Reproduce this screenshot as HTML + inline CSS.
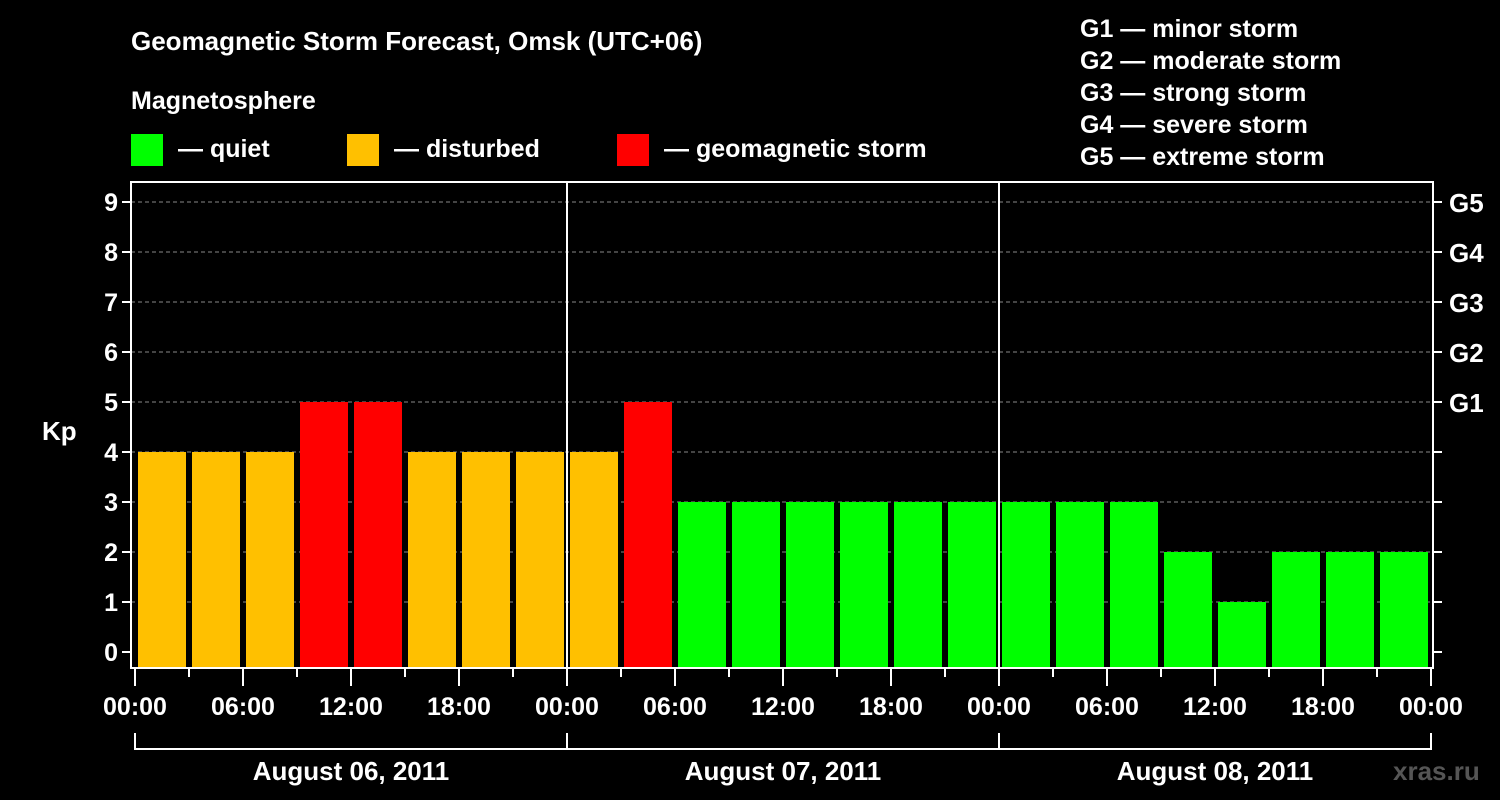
<!DOCTYPE html>
<html><head><meta charset="utf-8"><style>
html,body{margin:0;padding:0;background:#000;}
svg{display:block;font-family:"Liberation Sans",sans-serif;font-weight:bold;}
</style></head><body>
<svg id="chart" width="1500" height="800" viewBox="0 0 1500 800">
<rect width="1500" height="800" fill="#000"/>
<text x="131" y="50" fill="#fff" font-size="26">Geomagnetic Storm Forecast, Omsk (UTC+06)</text>
<text x="131" y="109" fill="#fff" font-size="25">Magnetosphere</text>
<g><rect x="131" y="134" width="32" height="32" fill="#00ff00"/><text x="178" y="157" fill="#fff" font-size="25">— quiet</text></g>
<g><rect x="347" y="134" width="32" height="32" fill="#ffc000"/><text x="394" y="157" fill="#fff" font-size="25">— disturbed</text></g>
<g><rect x="617" y="134" width="32" height="32" fill="#ff0000"/><text x="664" y="157" fill="#fff" font-size="25">— geomagnetic storm</text></g>
<g fill="#fff" font-size="25">
<text x="1080" y="37">G1 — minor storm</text>
<text x="1080" y="69">G2 — moderate storm</text>
<text x="1080" y="101">G3 — strong storm</text>
<text x="1080" y="133">G4 — severe storm</text>
<text x="1080" y="165">G5 — extreme storm</text>
</g>
<text x="42" y="440" fill="#fff" font-size="26">Kp</text>
<text x="1393" y="780" fill="#555" font-size="26">xras.ru</text>
<g id="plot"></g>
</svg>
<script>
const kpValues=[4,4,4,5,5,4,4,4,4,5,3,3,3,3,3,3,3,3,3,2,1,2,2,2];
const kpTicks=[0,1,2,3,4,5,6,7,8,9];
const gLabels={5:"G1",6:"G2",7:"G3",8:"G4",9:"G5"};
const timeLabels=["00:00","06:00","12:00","18:00","00:00","06:00","12:00","18:00","00:00","06:00","12:00","18:00","00:00"];
const dayLabels=["August 06, 2011","August 07, 2011","August 08, 2011"];

const NS="http://www.w3.org/2000/svg";
const plot=document.getElementById('plot');
const x0=135, slotW=54, L=131, R=1433, T=182, B=668;
const xs=i=>x0+i*slotW;
const ys=v=>652-v*50;
function mk(tag,attrs,parent){const e=document.createElementNS(NS,tag);for(const k in attrs)e.setAttribute(k,attrs[k]);(parent||plot).appendChild(e);return e;}
function color(v){return v>=5?"#ff0000":v===4?"#ffc000":"#00ff00";}

kpTicks.forEach(v=>{
  if(v>0){const g=mk('line',{x1:L,x2:R,y1:ys(v),y2:ys(v),stroke:'#888','stroke-dasharray':'4,3','stroke-width':1});
  
  }
  mk('line',{x1:L-9,x2:L,y1:ys(v),y2:ys(v),stroke:'#fff','stroke-width':2});
  mk('line',{x1:R,x2:R+9,y1:ys(v),y2:ys(v),stroke:'#fff','stroke-width':2});
  const t=mk('text',{x:L-13,y:ys(v)+9,fill:'#fff','font-size':25,'text-anchor':'end'});
  t.textContent=v;
  
  
  if(gLabels[v]){const g=mk('text',{x:1449,y:ys(v)+10,fill:'#fff','font-size':26});g.textContent=gLabels[v];
  
  }
});
kpValues.forEach((v,i)=>{
  const r=mk('rect',{x:xs(i)+3,y:ys(v),width:48,height:B-ys(v),fill:color(v)});
  
  
});
[1,2].forEach(d=>mk('line',{x1:xs(d*8),x2:xs(d*8),y1:T,y2:B,stroke:'#fff','stroke-width':2}));
mk('rect',{x:L,y:T,width:R-L,height:B-T,fill:'none',stroke:'#fff','stroke-width':2});
for(let i=0;i<=24;i++){
  mk('line',{x1:xs(i),x2:xs(i),y1:B,y2:i%2?677:686,stroke:'#fff','stroke-width':2});
}
timeLabels.forEach((s,i)=>{
  const t=mk('text',{x:xs(i*2),y:715,fill:'#fff','font-size':25,'text-anchor':'middle'});
  t.textContent=s;
  
  
});
dayLabels.forEach((s,d)=>{
  const a=xs(d*8),b=xs(d*8+8);
  mk('path',{d:`M${a},733V749H${b}`+(d===2?'V733':''),fill:'none',stroke:'#fff','stroke-width':2});
  if(d<2)mk('line',{x1:b,x2:b,y1:733,y2:749,stroke:'#fff','stroke-width':2});
  const t=mk('text',{x:(a+b)/2,y:780,fill:'#fff','font-size':26,'text-anchor':'middle'});
  t.textContent=s;
  
  
});
</script>
</body></html>
